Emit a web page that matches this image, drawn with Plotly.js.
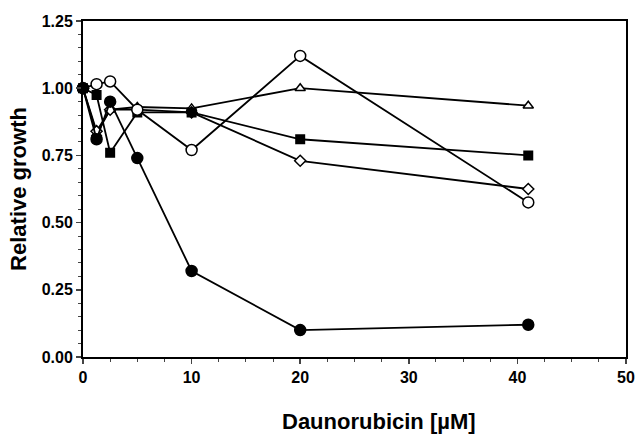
<!DOCTYPE html>
<html><head><meta charset="utf-8">
<script src="https://cdn.plot.ly/plotly-3.0.1.min.js"></script>
<style>html,body{margin:0;padding:0;background:#fff}#c{width:636px;height:434px}</style>
</head><body><div id="c"></div>
<script>
const conc = [0, 1.25, 2.5, 5, 10, 20, 41];
const filledCircle = [1.00, 0.81, 0.95, 0.74, 0.32, 0.10, 0.12];
const openCircle   = [1.00, 1.015, 1.025, 0.92, 0.77, 1.12, 0.575];
const filledSquare = [1.00, 0.975, 0.76, 0.91, 0.91, 0.81, 0.75];
const openTriangle = [1.00, 0.83, 0.92, 0.93, 0.925, 1.00, 0.935];
const openDiamond  = [1.00, 0.84, 0.92, 0.92, 0.91, 0.73, 0.625];
const xTitle = 'Daunorubicin [µM]';
const yTitle = 'Relative growth';

function tr(y, sym, size, fill){
  return {x: conc, y: y, type:'scatter', mode:'lines+markers', cliponaxis:false,
    line:{color:'#000', width:1.8},
    marker:{symbol:sym, size:size, color: fill, line:{color:'#000', width:1.5}}};
}
const data = [
  tr(openTriangle,'triangle-up',9,'#fff'),
  tr(openDiamond,'diamond',8.5,'#fff'),
  tr(filledSquare,'square',8.5,'#000'),
  tr(openCircle,'circle',11,'#fff'),
  tr(filledCircle,'circle',11,'#000')
];
const fam = '"Liberation Sans", Arial, sans-serif';
const tickfont = {family:fam, size:16, weight:'bold', color:'#000'};
const titlefont = {family:fam, size:22, weight:'bold', color:'#000'};
const layout = {
  width:636, height:434, showlegend:false,
  margin:{l:83, r:10, t:21, b:77},
  paper_bgcolor:'#fff', plot_bgcolor:'#fff',
  font:{family:fam, color:'#000'},
  xaxis:{range:[0,50], tickvals:[0,10,20,30,40,50], ticks:'outside', ticklen:5, tickwidth:1.5,
    showline:true, linewidth:2, linecolor:'#000', mirror:true, showgrid:false, zeroline:false,
    tickfont:tickfont,
    minor:{dtick:2.5, ticks:'outside', ticklen:3, tickwidth:1, showgrid:false}},
  yaxis:{range:[0,1.25], tickvals:[0,0.25,0.5,0.75,1.0,1.25], ticktext:['0.00','0.25','0.50','0.75','1.00','1.25'],
    ticks:'outside', ticklen:5, tickwidth:1.5,
    showline:true, linewidth:2, linecolor:'#000', mirror:true, showgrid:false, zeroline:false,
    tickfont:tickfont,
    minor:{dtick:0.05, ticks:'outside', ticklen:3, tickwidth:1, showgrid:false},
    title:{text:yTitle, standoff:9, font:titlefont}},
  annotations:[{text:xTitle, xref:'paper', yref:'paper', x:0.545, y:-0.193,
    xanchor:'center', yanchor:'middle', showarrow:false, font:titlefont}]
};
Plotly.newPlot('c', data, layout, {displayModeBar:false, staticPlot:true});
</script></body></html>
